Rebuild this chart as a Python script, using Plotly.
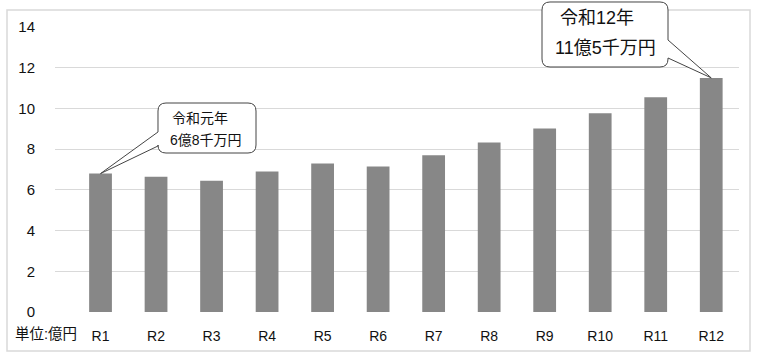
import plotly.graph_objects as go

categories = ["R1", "R2", "R3", "R4", "R5", "R6", "R7", "R8", "R9", "R10", "R11", "R12"]
values = [6.8, 6.65, 6.45, 6.9, 7.3, 7.15, 7.7, 8.33, 9.02, 9.76, 10.55, 11.5]
y_ticks = [0, 2, 4, 6, 8, 10, 12, 14]
unit_label = "単位:億円"
callout_first = ["令和元年", "6億8千万円"]
callout_last = ["令和12年", "11億5千万円"]

W, H = 757, 357
ML, MR, MT, MB = 55, 18, 27, 45
PW, PH = W - ML - MR, H - MT - MB
XMIN, XMAX = -0.82, 11.5
YMIN, YMAX = 0, 14

FONT = "Liberation Sans, Arial, Noto Sans CJK JP, sans-serif"
xs = list(range(len(categories)))

fig = go.Figure(go.Bar(x=xs, y=values, width=0.41, marker=dict(color="#878787", line=dict(width=0)),
                       hoverinfo="skip"))


def px2paper(px, py):
    return (px - ML) / PW, 1 - (py - MT) / PH


def data2px(x, y):
    return ML + (x - XMIN) / (XMAX - XMIN) * PW, MT + (1 - (y - YMIN) / (YMAX - YMIN)) * PH


def callout_path(x0, y0, x1, y1, side, wy0, wy1, tip, r=8):
    # rounded rectangle with a wedge pointer, pixel space -> paper
    tx, ty = tip
    def P(cmd, *pp):
        coords = []
        for (a, b) in pp:
            u, v = px2paper(a, b)
            coords.append(f"{u:.5f},{v:.5f}")
        return cmd + " " + " ".join(coords)
    segs = [P("M", (x0 + r, y0)), P("L", (x1 - r, y0)), P("Q", (x1, y0), (x1, y0 + r))]
    if side == "right":
        segs += [P("L", (x1, wy0)), P("L", (tx, ty)), P("L", (x1, wy1))]
    segs += [P("L", (x1, y1 - r)), P("Q", (x1, y1), (x1 - r, y1)), P("L", (x0 + r, y1)),
             P("Q", (x0, y1), (x0, y1 - r))]
    if side == "left":
        segs += [P("L", (x0, wy1)), P("L", (tx, ty)), P("L", (x0, wy0))]
    segs += [P("L", (x0, y0 + r)), P("Q", (x0, y0), (x0 + r, y0)), "Z"]
    return " ".join(segs)


shapes = []
# outer frame
fx0, fy0 = px2paper(7, 10)
fx1, fy1 = px2paper(750, 351)
shapes.append(dict(type="rect", xref="paper", yref="paper", x0=fx0, y0=fy1, x1=fx1, y1=fy0,
                   line=dict(color="#d9d9d9", width=1.5), layer="below"))

tip1 = data2px(xs[0], values[0])
tip12 = data2px(xs[-1], values[-1])
shapes.append(dict(type="path", xref="paper", yref="paper",
                   path=callout_path(158, 103, 256, 153, "left", 132, 146, tip1),
                   fillcolor="white", line=dict(color="#444", width=1), layer="above"))
shapes.append(dict(type="path", xref="paper", yref="paper",
                   path=callout_path(542, 2, 668, 67, "right", 40, 58, tip12),
                   fillcolor="white", line=dict(color="#444", width=1), layer="above"))

annotations = []


def txt(s, px, py, size):
    u, v = px2paper(px, py)
    annotations.append(dict(text=s, x=u, y=v, xref="paper", yref="paper", showarrow=False,
                            xanchor="center", yanchor="middle",
                            font=dict(family=FONT, size=size, color="#111")))


txt(callout_first[0], 200, 118, 14)
txt(callout_first[1], 206, 140, 14)
txt(callout_last[0], 597, 18, 18)
txt(callout_last[1], 605, 48, 18)
txt(unit_label, 46, 334, 14.5)

fig.update_layout(
    width=W, height=H,
    margin=dict(l=ML, r=MR, t=MT, b=MB),
    paper_bgcolor="white", plot_bgcolor="white",
    showlegend=False,
    font=dict(family=FONT, size=13, color="#111"),
    xaxis=dict(range=[XMIN, XMAX], tickvals=xs, ticktext=categories, showgrid=False,
               zeroline=False, showline=False, ticks="", tickfont=dict(size=14, color="#111"),
               ticklabelstandoff=14, fixedrange=True),
    yaxis=dict(range=[YMIN, YMAX], tickvals=y_ticks, showgrid=True, gridcolor="#d9d9d9",
               gridwidth=1, zeroline=False, showline=False, ticks="",
               tickfont=dict(size=15, color="#111"), ticklabelstandoff=19, fixedrange=True),
    shapes=shapes,
    annotations=annotations,
)

fig.write_html("out.html", config={"displayModeBar": False},
               post_script="document.body.style.margin='0';document.body.style.overflow='hidden';")
